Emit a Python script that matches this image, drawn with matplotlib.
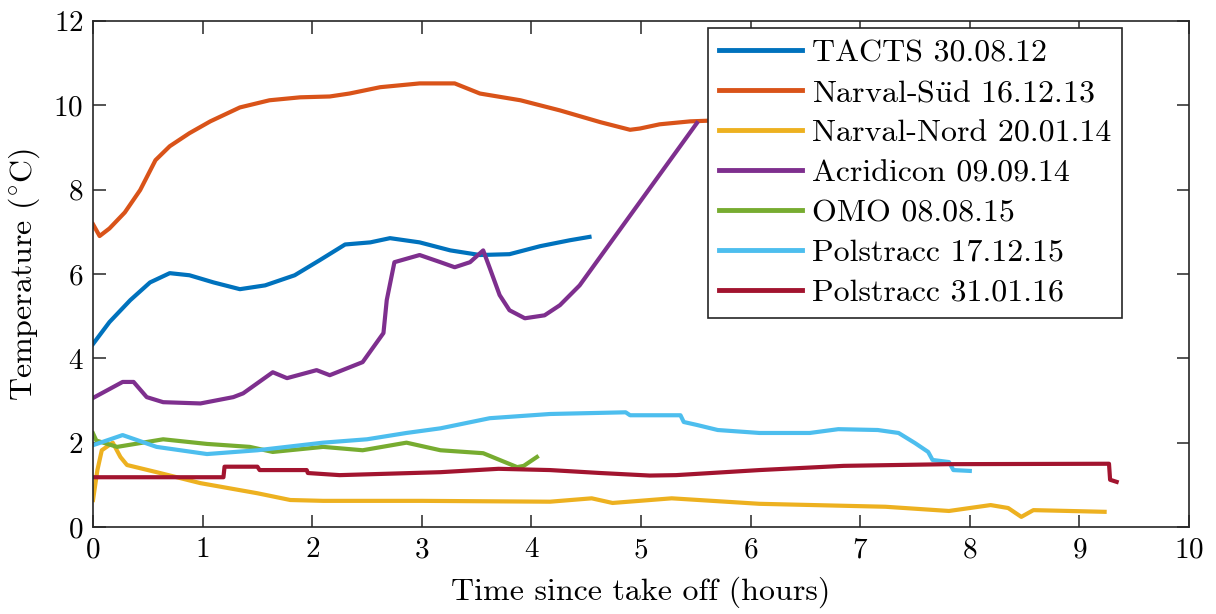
import matplotlib
matplotlib.use("Agg")
import matplotlib.pyplot as plt

# flight temperature records (hours, degC)
tacts_t = [0.0, 0.15, 0.34, 0.52, 0.70, 0.88, 1.10, 1.34, 1.57, 1.84, 2.07, 2.30, 2.53, 2.71,
           2.98, 3.26, 3.53, 3.80, 4.08, 4.35, 4.53]
tacts_T = [4.34, 4.86, 5.38, 5.80, 6.02, 5.97, 5.80, 5.64, 5.73, 5.97, 6.33, 6.70, 6.75, 6.85,
           6.75, 6.56, 6.45, 6.47, 6.66, 6.80, 6.88]

sued_t = [0.0, 0.06, 0.15, 0.29, 0.43, 0.57, 0.70, 0.88, 1.07, 1.34, 1.61, 1.89, 2.16, 2.34,
          2.62, 2.98, 3.30, 3.53, 3.90, 4.26, 4.63, 4.90, 4.99, 5.17, 5.45, 5.66, 6.5, 7.5, 8.3]
sued_T = [7.18, 6.90, 7.08, 7.46, 7.99, 8.70, 9.03, 9.34, 9.62, 9.95, 10.12, 10.19, 10.21, 10.28,
          10.43, 10.52, 10.52, 10.28, 10.12, 9.88, 9.60, 9.42, 9.45, 9.55, 9.62, 9.64, 9.66, 9.68, 9.68]

nord_t = [0.0, 0.04, 0.08, 0.18, 0.25, 0.31, 0.58, 0.98, 1.50, 1.80, 2.10, 3.0, 4.17, 4.55,
          4.74, 5.28, 6.08, 7.23, 7.81, 8.19, 8.35, 8.47, 8.58, 9.23]
nord_T = [0.64, 1.35, 1.82, 2.00, 1.66, 1.47, 1.30, 1.04, 0.80, 0.64, 0.62, 0.62, 0.60, 0.68,
          0.57, 0.68, 0.55, 0.48, 0.38, 0.52, 0.45, 0.24, 0.40, 0.36]

acri_t = [0.0, 0.27, 0.37, 0.49, 0.64, 0.98, 1.28, 1.37, 1.64, 1.77, 2.04, 2.16, 2.46, 2.65,
          2.68, 2.75, 2.98, 3.17, 3.30, 3.44, 3.56, 3.62, 3.71, 3.80, 3.94, 4.12, 4.26, 4.44, 5.51]
acri_T = [3.06, 3.44, 3.44, 3.08, 2.96, 2.93, 3.08, 3.17, 3.67, 3.53, 3.72, 3.60, 3.91, 4.60,
          5.38, 6.28, 6.45, 6.28, 6.16, 6.28, 6.56, 6.14, 5.50, 5.14, 4.95, 5.02, 5.26, 5.73, 9.58]

omo_t = [0.0, 0.03, 0.22, 0.43, 0.64, 1.04, 1.43, 1.64, 2.10, 2.46, 2.86, 3.17, 3.56, 3.87,
         3.93, 4.05]
omo_T = [2.22, 2.05, 1.90, 1.99, 2.08, 1.97, 1.90, 1.78, 1.90, 1.82, 2.00, 1.82, 1.75, 1.42,
         1.45, 1.66]

pol1_t = [0.0, 0.27, 0.58, 1.04, 1.50, 2.10, 2.50, 2.86, 3.17, 3.62, 4.17, 4.86, 4.90, 5.36,
          5.39, 5.51, 5.70, 6.08, 6.54, 6.80, 7.16, 7.35, 7.50, 7.62, 7.66, 7.81, 7.85, 8.00]
pol1_T = [1.94, 2.18, 1.90, 1.73, 1.82, 2.00, 2.08, 2.23, 2.34, 2.58, 2.68, 2.72, 2.65, 2.65,
          2.49, 2.42, 2.30, 2.23, 2.23, 2.32, 2.30, 2.23, 1.99, 1.78, 1.59, 1.54, 1.35, 1.33]

pol2_t = [0.0, 1.19, 1.20, 1.50, 1.52, 1.95, 1.96, 2.25, 3.17, 3.70, 4.17, 4.63, 5.08, 5.32,
          6.08, 6.85, 7.81, 9.27, 9.28, 9.34]
pol2_T = [1.18, 1.18, 1.43, 1.43, 1.35, 1.35, 1.28, 1.23, 1.30, 1.38, 1.35, 1.28, 1.22, 1.23,
          1.35, 1.45, 1.49, 1.50, 1.12, 1.07]

labels = ["TACTS 30.08.12", r"Narval-S$\ddot{\rm u}$d 16.12.13", "Narval-Nord 20.01.14",
          "Acridicon 09.09.14", "OMO 08.08.15", "Polstracc 17.12.15", "Polstracc 31.01.16"]
colors = ["#0072BD", "#D95319", "#EDB120", "#7E2F8E", "#77AC30", "#4DBEEE", "#A2142F"]

series = [(tacts_t, tacts_T), (sued_t, sued_T), (nord_t, nord_T), (acri_t, acri_T),
          (omo_t, omo_T), (pol1_t, pol1_T), (pol2_t, pol2_T)]

plt.rcParams["font.family"] = ["cmr10", "DejaVu Serif"]
plt.rcParams["mathtext.fontset"] = "cm"
plt.rcParams["axes.formatter.use_mathtext"] = True

fig = plt.figure(figsize=(12.16, 6.14), dpi=100)
ax = fig.add_axes([0.0765, 0.1417, 0.9013, 0.8241])

for (t, T), lab, c in zip(series, labels, colors):
    ax.plot(t, T, color=c, linewidth=3.0, label=lab)

ax.set_xlim(0, 10)
ax.set_ylim(0, 12)
ax.set_xticks(range(0, 11))
ax.set_yticks(range(0, 13, 2))
ax.set_xlabel("Time since take off (hours)", fontsize=23, labelpad=10)
ax.set_ylabel(r"Temperature ($^{\circ}$C)", fontsize=23, labelpad=8)

for s in ax.spines.values():
    s.set_color("#262626")
    s.set_linewidth(1.2)
ax.tick_params(direction="in", length=9, width=1.1, top=True, right=True,
               colors="#262626", labelcolor="black", labelsize=21, pad=7)

leg = ax.legend(loc="upper right", bbox_to_anchor=(0.939, 0.986), borderaxespad=0,
                fancybox=False, framealpha=1, edgecolor="#262626", fontsize=23,
                handlelength=2.6, labelspacing=0.36, handletextpad=0.3, borderpad=0.35)
leg.get_frame().set_linewidth(1.2)
for line in leg.get_lines():
    line.set_linewidth(3.5)

fig.savefig("out.png", dpi=100)
